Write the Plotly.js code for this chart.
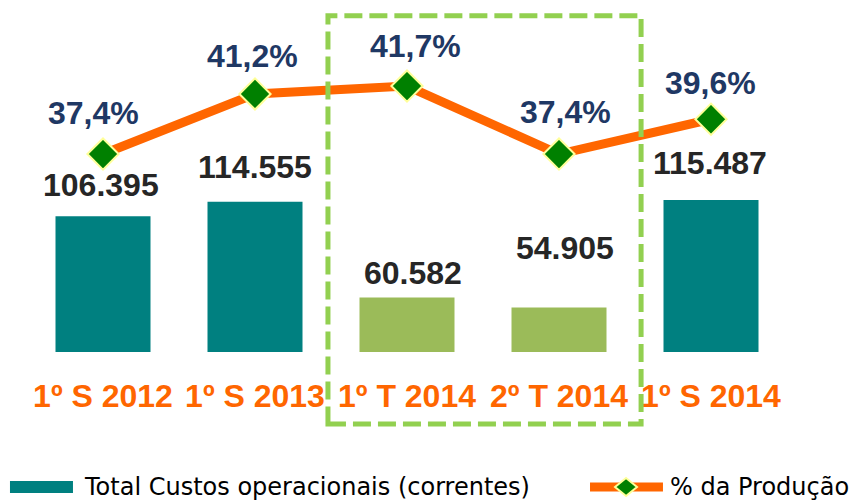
<!DOCTYPE html>
<html>
<head>
<meta charset="utf-8">
<script src="https://cdn.plot.ly/plotly-3.0.1.min.js"></script>
<style>html,body{margin:0;padding:0;background:#fff;}#chart{width:855px;height:501px;}</style>
</head>
<body>
<div id="chart"></div>
<script>
// ---- data ----
const categories = ["1º S 2012", "1º S 2013", "1º T 2014", "2º T 2014", "1º S 2014"];
const custos = [106395, 114555, 60582, 54905, 115487];
const producaoPct = [37.4, 41.2, 41.7, 37.4, 39.6];
const seriesNames = ["Total Custos operacionais (correntes)", "% da Produção"];

// ---- styles ----
const barColors = ["#008080", "#008080", "#9BBB59", "#9BBB59", "#008080"];
const barLabelShiftY = [31, 35, 25, 60, 37];
const barLabelShiftX = [-2, 0, 6, 6, -1];
const pctLabelShiftY = [41, 38, 40, 42, 36];
const pctLabelShiftX = [-10, -3, 8, 6, -1];

const fmtThousands = v => String(v).replace(/\B(?=(\d{3})+(?!\d))/g, ".");
const fmtPct = v => v.toFixed(1).replace(".", ",") + "%";

const boldFont = (size, color) => ({family: "Liberation Sans, Arial, sans-serif", size: size, color: color, weight: "bold"});

const traces = [
  {
    type: "bar", x: categories, y: custos, name: seriesNames[0],
    marker: {color: barColors}, width: 0.625, hoverinfo: "skip", showlegend: false
  },
  {
    type: "scatter", mode: "lines+markers", x: categories, y: producaoPct, yaxis: "y2", name: seriesNames[1],
    line: {color: "#FF6600", width: 9}, cliponaxis: false,
    marker: {symbol: "diamond", size: 24, color: "#008000", line: {color: "#FFFF99", width: 2}},
    hoverinfo: "skip", showlegend: false
  }
];

const annotations = [];
categories.forEach((c, i) => {
  annotations.push({x: c, y: custos[i], xref: "x", yref: "y", text: fmtThousands(custos[i]), showarrow: false,
    yanchor: "middle", xanchor: "center", yshift: barLabelShiftY[i], xshift: barLabelShiftX[i], font: boldFont(32, "#262626")});
  annotations.push({x: c, y: producaoPct[i], xref: "x", yref: "y2", text: fmtPct(producaoPct[i]), showarrow: false,
    yanchor: "middle", xanchor: "center", yshift: pctLabelShiftY[i], xshift: pctLabelShiftX[i], font: boldFont(32, "#1F3864")});
});
// manual legend text
annotations.push({xref: "paper", yref: "paper", x: 0.0724, y: -0.3947, xanchor: "left", yanchor: "middle", showarrow: false,
  text: seriesNames[0], font: {family: "DejaVu Sans, sans-serif", size: 24, color: "#000"}});
annotations.push({xref: "paper", yref: "paper", x: 0.8434, y: -0.3947, xanchor: "left", yanchor: "middle", showarrow: false,
  text: seriesNames[1], font: {family: "DejaVu Sans, sans-serif", size: 24, color: "#000"}});

const shapes = [
  // dashed highlight box
  {type: "rect", xref: "paper", yref: "paper", x0: 0.396, x1: 0.808, y0: -0.2105, y1: 0.983, layer: "above",
    line: {color: "#92D050", width: 5, dash: "18px,7px"}, fillcolor: "rgba(0,0,0,0)"},
  // legend: bar swatch
  {type: "rect", xref: "paper", yref: "paper", x0: -0.0224, x1: 0.0605, y0: -0.4123, y1: -0.3772,
    line: {width: 0}, fillcolor: "#008080"},
  // legend: line swatch
  {type: "line", xref: "paper", yref: "paper", x0: 0.7408, x1: 0.8368, y0: -0.3947, y1: -0.3947,
    line: {color: "#FF6600", width: 9}},
  {type: "path", xref: "paper", yref: "paper", xsizemode: "pixel", ysizemode: "pixel", xanchor: 0.7882, yanchor: -0.3947,
    path: "M-11,0 L0,9 L11,0 L0,-9 Z", fillcolor: "#008000", line: {color: "#FFFF99", width: 2}}
];

const layout = {
  width: 855, height: 501,
  margin: {l: 27, r: 68, t: 10, b: 149},
  paper_bgcolor: "#ffffff", plot_bgcolor: "#ffffff",
  showlegend: false,
  xaxis: {type: "category", showgrid: false, zeroline: false, showline: false, ticks: "",
    tickfont: boldFont(32, "#FF6600"), ticklabelstandoff: 22},
  yaxis: {range: [29930, 222400], visible: false, showgrid: false, zeroline: false},
  yaxis2: {range: [24.88, 46.51], overlaying: "y", side: "right", visible: false, showgrid: false, zeroline: false},
  annotations: annotations,
  shapes: shapes
};

Plotly.newPlot("chart", traces, layout, {staticPlot: true, displayModeBar: false});
</script>
</body>
</html>
